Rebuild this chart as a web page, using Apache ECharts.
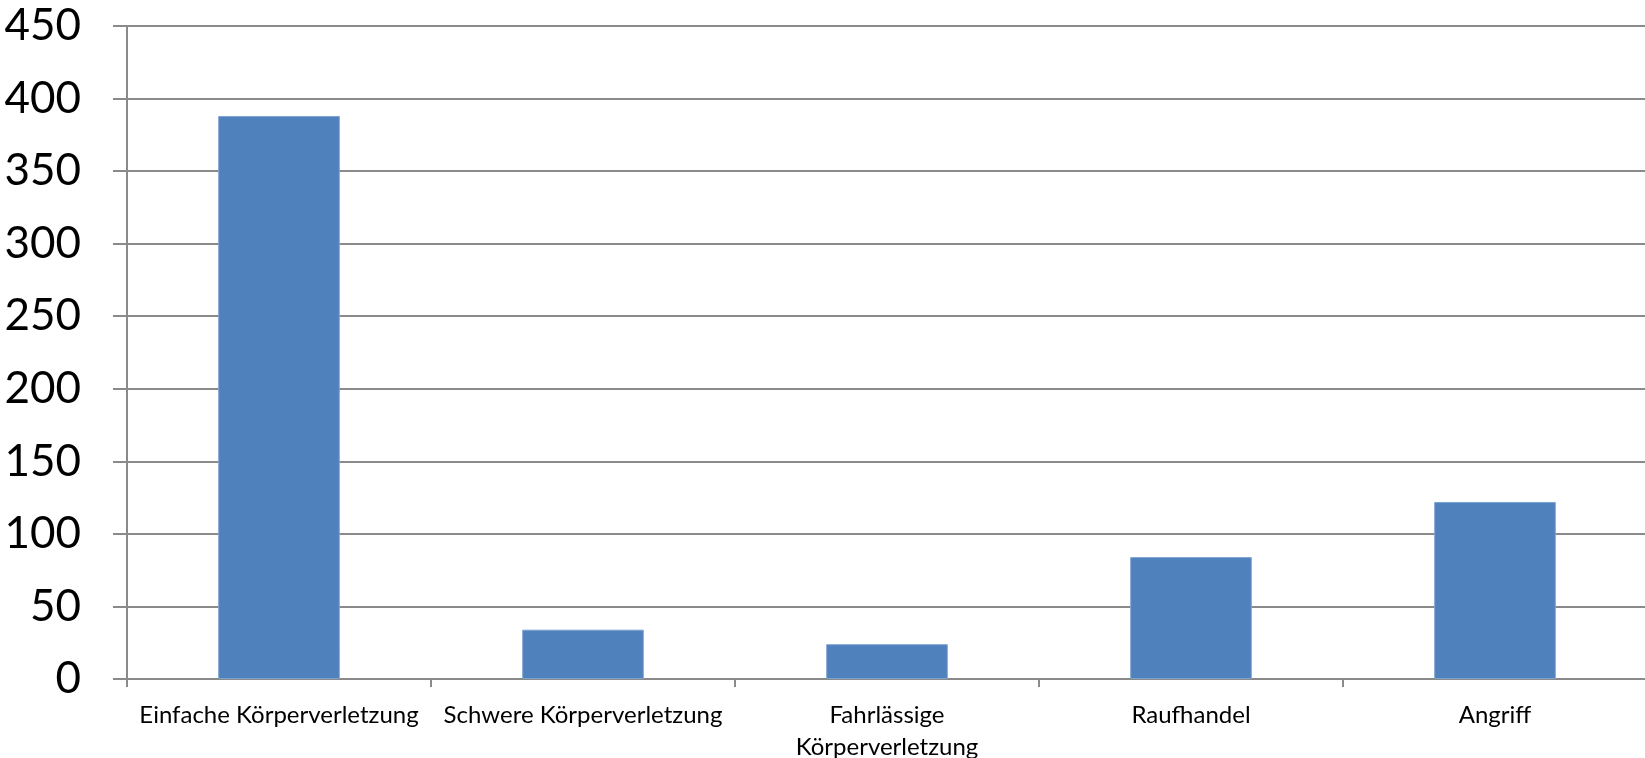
<!DOCTYPE html>
<html>
<head>
<meta charset="utf-8">
<script src="https://cdn.jsdelivr.net/npm/echarts@6/dist/echarts.min.js"></script>
<style>
html,body{margin:0;padding:0;background:#fff;}
#chart{width:1645px;height:758px;}
</style>
</head>
<body>
<div id="chart"></div>
<script>
const categories = ['Einfache Körperverletzung', 'Schwere Körperverletzung', 'Fahrlässige\nKörperverletzung', 'Raufhandel', 'Angriff'];
const values = [388, 34, 24, 84, 122];
const yMin = 0, yMax = 450, yStep = 50;

const chart = echarts.init(document.getElementById('chart'), null, {renderer: 'canvas'});
const gridColor = '#8a8a8a';
chart.setOption({
  animation: false,
  backgroundColor: '#ffffff',
  grid: {left: 127, top: 26, width: 1520, height: 653, containLabel: false, outerBoundsMode: 'none'},
  xAxis: {
    type: 'category',
    data: categories,
    boundaryGap: true,
    axisLine: {show: true, lineStyle: {color: gridColor, width: 2}},
    axisTick: {show: true, length: 8, alignWithLabel: false, lineStyle: {color: gridColor, width: 2}},
    axisLabel: {color: '#000', fontFamily: 'Lato', fontSize: 24, margin: 20, lineHeight: 32, interval: 0}
  },
  yAxis: {
    type: 'value',
    min: yMin, max: yMax, interval: yStep,
    axisLine: {show: true, lineStyle: {color: gridColor, width: 2}},
    axisTick: {show: true, length: 14, inside: false, lineStyle: {color: gridColor, width: 2}},
    splitLine: {show: true, lineStyle: {color: gridColor, width: 2}},
    axisLabel: {color: '#000', fontFamily: 'Lato', fontSize: 44, margin: 46}
  },
  series: [{
    type: 'bar',
    data: values,
    barCategoryGap: '60%',
    itemStyle: {color: '#4F81BD', borderColor: '#7fa3d0', borderWidth: 1}
  }]
});
</script>
</body>
</html>
